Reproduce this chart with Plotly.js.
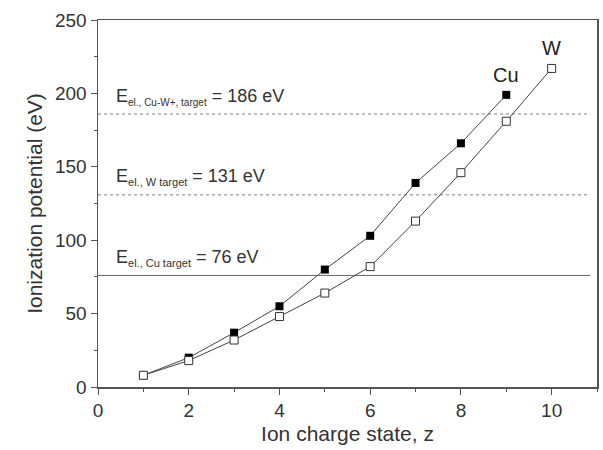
<!DOCTYPE html>
<html><head><meta charset="utf-8">
<script src="https://cdn.plot.ly/plotly-3.0.1.min.js"></script>
<style>body{margin:0;background:#fff}#c{width:603px;height:450px}</style>
</head><body><div id="c"></div>
<script>
const chargeCu = [1, 2, 3, 4, 5, 6, 7, 8, 9];
const ipCu = [8, 20, 37, 55, 80, 103, 139, 166, 199];
const chargeW = [1, 2, 3, 4, 5, 6, 7, 8, 9, 10];
const ipW = [8, 18, 32, 48, 64, 82, 113, 146, 181, 217];
const targetEnergies = [186, 131, 76];
const targetSubs = ['el., Cu-W+, target', 'el., W target', 'el., Cu target'];
const targetDash = ['dot', 'dot', 'solid'];
const xRange = [0, 11];
const yRange = [0, 250];

const traces = [];
targetEnergies.forEach((e, i) => {
  traces.push({x: [xRange[0], 10.85], y: [e, e], mode: 'lines', showlegend: false, hoverinfo: 'skip',
    line: {color: i < 2 ? '#aaaaaa' : '#666666', width: i < 2 ? 1.5 : 1, dash: targetDash[i]}});
});
traces.push({x: chargeCu, y: ipCu, mode: 'lines+markers', name: 'Cu', showlegend: false,
  line: {color: '#444', width: 1}, marker: {symbol: 'square', size: 8, color: '#000'}});
traces.push({x: chargeW, y: ipW, mode: 'lines+markers', name: 'W', showlegend: false,
  line: {color: '#444', width: 1}, marker: {symbol: 'square', size: 8, color: '#fff', line: {width: 1, color: '#333'}}});

const annots = targetEnergies.map((e, i) => ({x: 0.35, y: e + 3, xref: 'x', yref: 'y',
  text: 'E<sub><span style="font-size:' + (i === 0 ? 10 : 11) + 'px">' + targetSubs[i] + '</span></sub> = ' + e + ' eV',
  showarrow: false, xanchor: 'left', yanchor: 'bottom', font: {size: 18, color: '#333'}}));
annots.push({x: chargeCu[chargeCu.length - 1], y: ipCu[ipCu.length - 1] + 5, text: 'Cu', showarrow: false,
  yanchor: 'bottom', xanchor: 'center', font: {size: 20, color: '#222'}});
annots.push({x: chargeW[chargeW.length - 1], y: ipW[ipW.length - 1] + 5, text: 'W', showarrow: false,
  yanchor: 'bottom', xanchor: 'center', font: {size: 20, color: '#222'}});

const layout = {
  width: 603, height: 450,
  margin: {l: 98, r: 6, t: 20, b: 63},
  paper_bgcolor: '#fff', plot_bgcolor: '#fff',
  font: {family: 'Liberation Sans, Arial, sans-serif', color: '#333'},
  xaxis: {range: xRange, dtick: 2, tick0: 0, showgrid: false, zeroline: false,
    showline: true, linecolor: '#555', linewidth: 1.5, mirror: true,
    ticks: 'outside', ticklen: 6, tickcolor: '#555', tickfont: {size: 19},
    minor: {dtick: 1, ticks: 'outside', ticklen: 3, tickcolor: '#555'},
    title: {text: 'Ion charge state, z', font: {size: 21}, standoff: 6}},
  yaxis: {range: yRange, dtick: 50, tick0: 0, showgrid: false, zeroline: false,
    showline: true, linecolor: '#555', linewidth: 1.5, mirror: true,
    ticks: 'outside', ticklen: 6, tickcolor: '#555', tickfont: {size: 19},
    minor: {dtick: 25, ticks: 'outside', ticklen: 3, tickcolor: '#555'},
    title: {text: 'Ionization potential (eV)', font: {size: 21}, standoff: 6}},
  annotations: annots
};
Plotly.newPlot('c', traces, layout, {displayModeBar: false, staticPlot: true});
</script></body></html>
